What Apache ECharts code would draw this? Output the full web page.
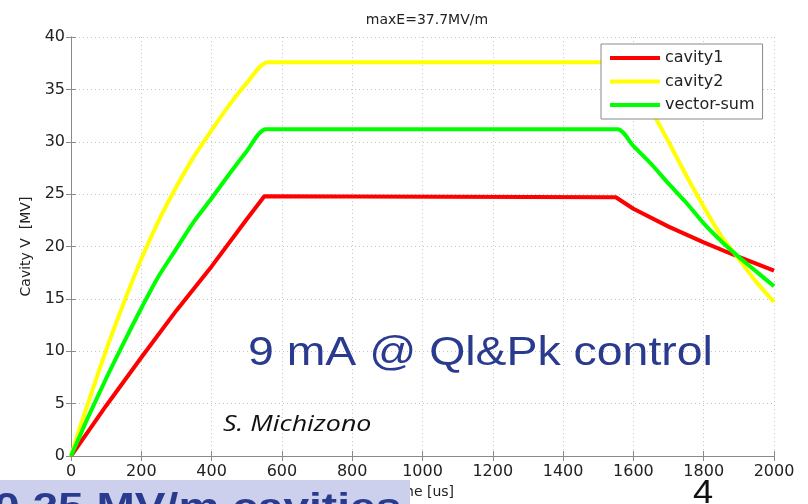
<!DOCTYPE html>
<html>
<head>
<meta charset="utf-8">
<script src="https://cdn.jsdelivr.net/npm/echarts@6/dist/echarts.min.js"></script>
<style>html,body{margin:0;padding:0;background:#fff}#c{width:808px;height:504px}</style>
</head>
<body>
<div id="c"></div>
<script>
// ---- data ----
const xTicks = [0,200,400,600,800,1000,1200,1400,1600,1800,2000];
const yTicks = [0,5,10,15,20,25,30,35,40];

const cav1T = [0,50,100,200,300,400,500,550,1550,1600,1700,1800,1900,2000];
const cav1V = [0,2.4,4.8,9.4,13.9,18.1,22.6,24.8,24.7,23.6,21.9,20.4,19.0,17.7];

const cav2T = [0,25,50,100,150,200,250,300,350,400,450,500,560,1560,1600,1650,1700,1750,1800,1850,1900,1950,2000];
const cav2V = [0,2.7,5.2,10.1,14.6,18.8,22.5,25.7,28.6,31.1,33.5,35.6,37.6,37.6,35.6,33.0,30.0,26.8,23.8,21.0,18.8,16.6,14.7];

const vsumT = [0,25,50,100,150,200,250,300,350,400,450,500,555,1555,1600,1650,1700,1750,1800,1850,1900,1950,2000];
const vsumV = [0,1.9,3.8,7.4,10.8,14.1,17.2,19.8,22.4,24.6,26.9,29.1,31.2,31.2,29.6,27.9,26.0,24.2,22.2,20.5,19.0,17.6,16.2];

const seriesNames = ['cavity1','cavity2','vector-sum'];
const seriesColors = ['#ff0000','#ffff00','#00ff00'];

const titleText = 'maxE=37.7MV/m';
const xName = 'time [us]';
const yName = 'Cavity V  [MV]';
const bigNote = '9 mA @ Ql&Pk control';
const author = 'S. Michizono';
const pageNo = '4';
const bannerText = '0.25 MV/m cavities';

function zip(a,b){return a.map((v,i)=>[v,b[i]]);}

const chart = echarts.init(document.getElementById('c'), null, {renderer:'canvas'});
const FONT = 'DejaVu Sans';
const axisGray = '#8a8a8a';

const common = {min:0, axisLine:{show:true,lineStyle:{color:axisGray,width:1}},
  axisTick:{show:true,inside:true,length:5,lineStyle:{color:axisGray}}};

function mkSeries(i, t, v, smooth){
  return {name:seriesNames[i],type:'line',data:zip(t,v),showSymbol:false,symbol:'none',
    smooth:smooth,z:3,lineStyle:{color:seriesColors[i],width:4},itemStyle:{color:seriesColors[i]}};
}

chart.setOption({
  animation:false,
  backgroundColor:'#ffffff',
  title:{text:titleText,left:422,top:8,textAlign:'center',
    textStyle:{fontFamily:FONT,fontSize:14,fontWeight:'normal',color:'#222'}},
  grid:{left:71,right:34,top:37,bottom:48,containLabel:false},
  legend:{
    orient:'vertical',left:601,top:44,
    data:seriesNames,
    icon:'rect',itemWidth:50,itemHeight:4,itemGap:5.5,
    padding:[5,8,5,9],
    backgroundColor:'#fff',borderColor:'#8a8a8a',borderWidth:1,
    textStyle:{fontFamily:FONT,fontSize:16,color:'#222',lineHeight:18}
  },
  xAxis:[
    Object.assign({type:'value',max:2000,interval:200,position:'bottom',
      name:xName,nameLocation:'middle',nameGap:28,
      nameTextStyle:{fontFamily:FONT,fontSize:14,color:'#222'},
      axisLabel:{fontFamily:FONT,fontSize:16,color:'#222',margin:8,
        formatter:v=>xTicks.indexOf(v)>=0?String(v):''},
      splitLine:{show:true,lineStyle:{color:'#c4c4c4',type:[1,3],width:1}}},common),
    Object.assign({type:'value',max:2000,interval:200,position:'top',
      axisLabel:{show:false},splitLine:{show:false}},common)
  ],
  yAxis:[
    Object.assign({type:'value',max:40,interval:5,position:'left',
      name:yName,nameLocation:'middle',nameGap:36,nameRotate:90,
      nameTextStyle:{fontFamily:FONT,fontSize:14,color:'#222'},
      axisLabel:{fontFamily:FONT,fontSize:16,color:'#222',margin:6,
        formatter:v=>yTicks.indexOf(v)>=0?String(v):''},
      splitLine:{show:true,lineStyle:{color:'#c4c4c4',type:[1,3],width:1}}},common),
    Object.assign({type:'value',max:40,interval:5,position:'right',
      axisLabel:{show:false},splitLine:{show:false}},common)
  ],
  series:[
    mkSeries(0, cav1T, cav1V, false),
    mkSeries(1, cav2T, cav2V, 0.25),
    mkSeries(2, vsumT, vsumV, 0.25)
  ],
  graphic:[
    {type:'text',x:248,y:334,scaleX:1.16,z:100,
      style:{text:bigNote,font:'40px "Liberation Sans"',fill:'#2a3b8f',textVerticalAlign:'top'}},
    {type:'text',x:223,y:414,scaleX:1.22,z:100,
      style:{text:author,font:'italic 22px "Open Sans"',fill:'#111',textVerticalAlign:'top'}},
    {type:'rect',z:100,shape:{x:0,y:480,width:410,height:30},style:{fill:'#ccd0ec'}},
    {type:'text',z:101,x:-6,y:491,scaleX:1.28,
      style:{text:bannerText,font:'bold 36px "Liberation Sans"',fill:'#2a3b8f',textVerticalAlign:'top'}},
    {type:'text',z:100,x:693,y:477,scaleX:1.1,
      style:{text:pageNo,font:'33px "Liberation Sans"',fill:'#111',textVerticalAlign:'top'}}
  ]
});
</script>
</body>
</html>
